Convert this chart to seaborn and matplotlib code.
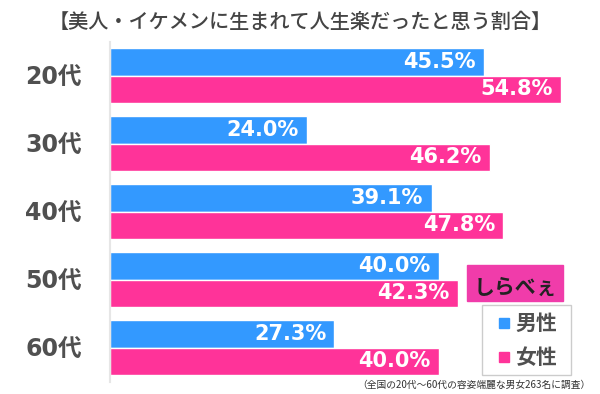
import pandas as pd
import seaborn as sns
import matplotlib.pyplot as plt
from matplotlib.patches import Rectangle

ages = ["20代", "30代", "40代", "50代", "60代"]
male = [45.5, 24.0, 39.1, 40.0, 27.3]
female = [54.8, 46.2, 47.8, 42.3, 40.0]
groups = ["男性", "女性"]

df = pd.DataFrame({
    "age": ages * 2,
    "value": male + female,
    "sex": [groups[0]] * len(ages) + [groups[1]] * len(ages),
})

sns.set_style("white")
plt.rcParams['font.family'] = ['Noto Sans CJK JP', 'DejaVu Sans']

blue = "#3399FF"
pink = "#FF3399"
gray = "#505050"

fig = plt.figure(figsize=(6, 3.94), dpi=100)
ax = fig.add_axes([109.5 / 600, 1 - 381.5 / 394, 486 / 600, 340 / 394])

sns.barplot(data=df, y="age", x="value", hue="sex", orient="h",
            palette=[blue, pink], width=0.8, saturation=1, ax=ax, legend=False)

ax.set_xlim(0, 59)
ax.set_ylim(4.5, -0.5)
ax.set_xlabel("")
ax.set_ylabel("")
ax.set_xticks([])
ax.tick_params(axis="y", length=0, pad=20)
for lbl in ax.get_yticklabels():
    lbl.set_fontsize(17)
    lbl.set_fontweight("bold")
    lbl.set_color(gray)
    lbl.set_family(['DejaVu Sans', 'Noto Sans CJK JP'])
for s in ["top", "right", "bottom"]:
    ax.spines[s].set_visible(False)
ax.spines["left"].set_color("#e6e6e6")
ax.spines["left"].set_linewidth(1.5)

for bars in ax.containers:
    for bar in bars:
        w = bar.get_width()
        ax.text(w - 1.0, bar.get_y() + bar.get_height() / 2, f"{w:.1f}%",
                ha="right", va="center", color="white", fontsize=15,
                fontweight="bold", family="DejaVu Sans")

fig.text(0.5, 1 - 22 / 394, "【美人・イケメンに生まれて人生楽だったと思う割合】",
         ha="center", va="center", fontsize=14.5, color="#444444", fontweight="medium")

# logo
fig.patches.append(Rectangle((467 / 600, 1 - 301 / 394), 96 / 600, 36 / 394,
                             transform=fig.transFigure, color="#F03CAA", zorder=5))
fig.text(515 / 600, 1 - 287 / 394, "しらべぇ", ha="center", va="center",
         fontsize=15, color="#222222", fontweight="bold", zorder=6)

# legend box
fig.patches.append(Rectangle((482 / 600, 1 - 375 / 394), 89 / 600, 70 / 394,
                             transform=fig.transFigure, facecolor="white",
                             edgecolor="#cccccc", lw=1, zorder=5))
for i, (g, c) in enumerate(zip(groups, [blue, pink])):
    y = 1 - (323 + i * 34) / 394
    fig.patches.append(Rectangle((499 / 600, y - 5 / 394), 10 / 600, 10 / 394,
                                 transform=fig.transFigure, color=c, zorder=6))
    fig.text(515 / 600, y, g, ha="left", va="center", fontsize=15,
             fontweight="bold", color=gray, zorder=6)

fig.text(590 / 600, 1 - 385 / 394, "（全国の20代～60代の容姿端麗な男女263名に調査）",
         ha="right", va="center", fontsize=7, color="#333333")

fig.savefig("out.png", dpi=100)
